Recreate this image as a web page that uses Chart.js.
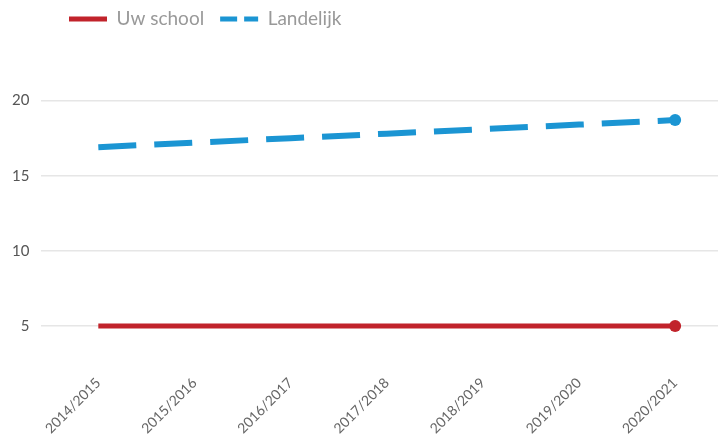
<!DOCTYPE html>
<html>
<head>
<meta charset="utf-8">
<script src="https://cdn.jsdelivr.net/npm/chart.js@4"></script>
<style>
html, body { margin:0; padding:0; background:#fff; }
#wrap { width:724px; height:441px; }
</style>
</head>
<body>
<div id="wrap"><canvas id="myChart"></canvas></div>
<script>
// schooljaren
const labels = ["2014/2015","2015/2016","2016/2017","2017/2018","2018/2019","2019/2020","2020/2021"];
const uwSchool = [5,5,5,5,5,5,5];
const landelijk = [16.9,17.2,17.5,17.8,18.1,18.4,18.7];
const yTicks = [5,10,15,20];

const red = "#c1232b";
const blue = "#1b95d3";
const last = labels.length - 1;

function toPoints(arr){
  return arr.map(function(v,i){ return {x:i, y:v}; });
}

// move legend right and up a bit
const legendShift = {
  id:"legendShift",
  afterLayout:function(chart){
    chart.legend.left += 53;
    chart.legend.right += 53;
    chart.legend.top -= 6.5;
    chart.legend.bottom -= 6.5;
  }
};

Chart.defaults.font.family = "Lato, 'Open Sans', sans-serif";

let ctx = document.getElementById("myChart").getContext("2d");
let lineChart = new Chart(ctx,{
  type:"line",
  data:{
    datasets:[{
      label:"Uw school",
      data:toPoints(uwSchool),
      borderColor:red,
      backgroundColor:red,
      borderWidth:5,
      pointRadius:function(c){ return c.dataIndex === last ? 6 : 0; },
      pointBackgroundColor:red,
      pointBorderWidth:0,
      tension:0
    },{
      label:"Landelijk",
      data:toPoints(landelijk),
      borderColor:blue,
      backgroundColor:blue,
      borderWidth:6,
      borderDash:[38,18],
      pointRadius:function(c){ return c.dataIndex === last ? 6 : 0; },
      pointBackgroundColor:blue,
      pointBorderWidth:0,
      tension:0
    }]
  },
  options:{
    responsive:true,
    maintainAspectRatio:false,
    animation:false,
    layout:{ padding:{ left:0, right:0, top:0, bottom:0 } },
    plugins:{
      tooltip:{ enabled:false },
      legend:{
        display:true,
        position:"top",
        align:"start",
        labels:{
          usePointStyle:true,
          pointStyleWidth:38,
          padding:16,
          color:"#999",
          font:{ size:19 },
          generateLabels:function(chart){
            return chart.data.datasets.map(function(ds,i){
              return {
                text:ds.label,
                datasetIndex:i,
                pointStyle:"line",
                strokeStyle:ds.borderColor,
                fillStyle:ds.borderColor,
                lineWidth:5,
                lineDash: i === 1 ? [17,7] : [],
                fontColor:"#999",
                hidden:false
              };
            });
          }
        }
      }
    },
    scales:{
      x:{
        type:"linear",
        min:-0.592,
        max:6.446,
        grid:{ display:false },
        border:{ display:false },
        afterBuildTicks:function(axis){
          axis.ticks = labels.map(function(l,i){ return {value:i}; });
        },
        ticks:{
          autoSkip:false,
          minRotation:45,
          maxRotation:45,
          padding:4,
          color:"#666",
          font:{ size:14 },
          callback:function(v){ return labels[v]; }
        }
      },
      y:{
        min:2.55,
        max:23.7,
        afterBuildTicks:function(axis){
          axis.ticks = yTicks.map(function(v){ return {value:v}; });
        },
        grid:{ color:"#e6e6e6", lineWidth:1.5, drawTicks:false },
        border:{ display:false },
        ticks:{
          padding:12,
          color:"#555",
          font:{ size:15 }
        }
      }
    }
  },
  plugins:[legendShift]
});
</script>
</body>
</html>
